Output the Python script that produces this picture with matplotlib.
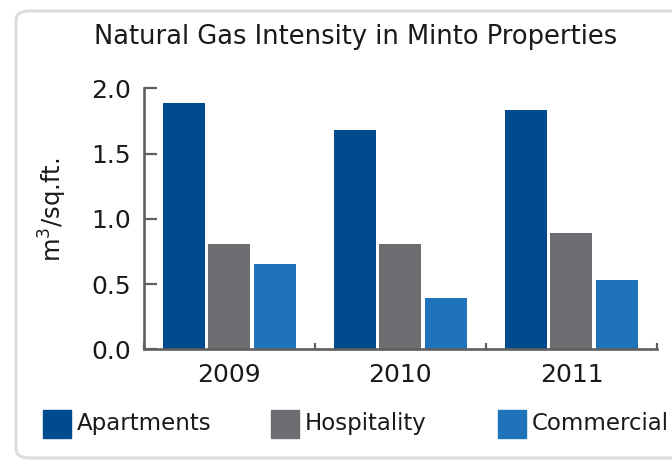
import matplotlib
matplotlib.use("Agg")
import matplotlib.pyplot as plt
from matplotlib.patches import FancyBboxPatch, Rectangle
import numpy as np

plt.rcParams['font.family'] = ['DejaVu Sans']

years = ['2009', '2010', '2011']
series = ['Apartments', 'Hospitality', 'Commercial']
apartments = [1.89, 1.68, 1.83]
hospitality = [0.81, 0.81, 0.89]
commercial = [0.65, 0.39, 0.53]
colors = ['#004b8d', '#6d6e71', '#1f73ba']

W, H = 672, 461
fig = plt.figure(figsize=(W / 100, H / 100), dpi=100)

# rounded panel border, runs off the right edge
fig.patches.append(FancyBboxPatch((16 / W, 3 / H), 700 / W, 447 / H,
                                  boxstyle="round,pad=0,rounding_size=0.02",
                                  transform=fig.transFigure, fill=False,
                                  edgecolor='#dcdcdc', linewidth=2.2))

ax = fig.add_axes([143.7 / W, 1 - 349.3 / H, (657 - 143.7) / W, (349.3 - 88.3) / H])

x = np.arange(len(years))
step, width = 0.265, 0.245
for i, (vals, c) in enumerate(zip([apartments, hospitality, commercial], colors)):
    ax.bar(x + (i - 1) * step, vals, width, color=c, label=series[i])

axis_col = '#5f5f5f'
txt_col = '#1a1a1a'
ax.set_xlim(-0.5, 2.5)
ax.set_ylim(0, 2.0)
ax.set_yticks([0, 0.5, 1.0, 1.5, 2.0])
ax.set_yticklabels(['0.0', '0.5', '1.0', '1.5', '2.0'])
ax.set_xticks(x)
ax.set_xticklabels(years)
ax.set_xticks([-0.5, 0.5, 1.5, 2.5], minor=True)
ax.tick_params(axis='x', which='major', length=0, pad=10, labelsize=18, labelcolor=txt_col)
ax.tick_params(axis='x', which='minor', direction='in', length=4.5, width=1.6, color=axis_col)
ax.tick_params(axis='y', direction='in', length=9.5, width=1.6, color=axis_col,
               pad=9, labelsize=18, labelcolor=txt_col)
for s in ['top', 'right']:
    ax.spines[s].set_visible(False)
for s in ['left', 'bottom']:
    ax.spines[s].set_color(axis_col)
    ax.spines[s].set_linewidth(1.9)

ax.set_ylabel('m$^3$/sq.ft.', fontsize=17.5, color=txt_col)
ax.yaxis.set_label_coords(-0.146, 0.534)

fig.text(356 / W, 1 - 37 / H, 'Natural Gas Intensity in Minto Properties',
         ha='center', va='center', fontsize=18.5, color=txt_col)

# legend laid out by hand: fixed-width columns
for i, (name, c) in enumerate(zip(series, colors)):
    x0 = 43 + i * 227.5
    fig.patches.append(Rectangle((x0 / W, 1 - 438 / H), 28 / W, 28 / H,
                                 transform=fig.transFigure, color=c))
    fig.text((x0 + 34) / W, 1 - 423 / H, name, ha='left', va='center',
             fontsize=16.5, color=txt_col)

fig.savefig('out.png', dpi=100)
